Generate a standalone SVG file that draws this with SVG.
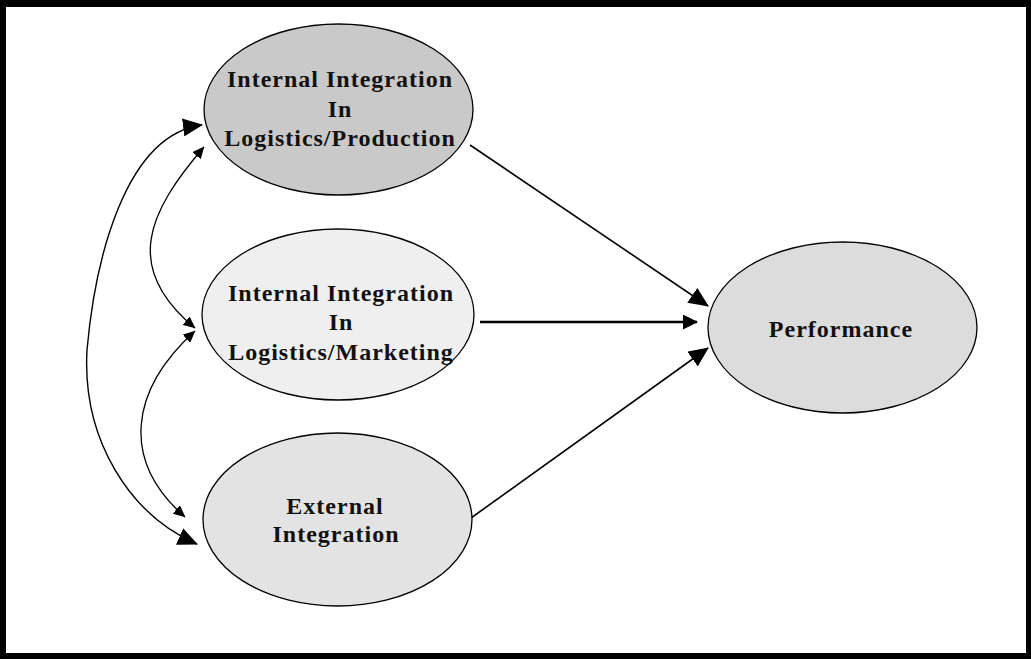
<svg xmlns="http://www.w3.org/2000/svg" width="1031" height="659" viewBox="0 0 1031 659">
  <style>
    .node ellipse { stroke: #000; stroke-width: 1.3; }
    .node text { font-family: "Liberation Serif", "Times New Roman", serif; font-weight: bold; font-size: 24px; fill: #111; text-anchor: middle; letter-spacing: 1px; }
    .conn { fill: none; stroke: #000; }
  </style>
  <defs>
    <marker id="big" markerUnits="userSpaceOnUse" markerWidth="20" markerHeight="18" viewBox="0 0 20 18" refX="19" refY="9" orient="auto-start-reverse">
      <path d="M0,0 L20,9 L0,18 Z" fill="#000"/>
    </marker>
    <marker id="mid" markerUnits="userSpaceOnUse" markerWidth="15" markerHeight="15" viewBox="0 0 15 15" refX="14" refY="7.5" orient="auto">
      <path d="M0,0 L15,7.5 L0,15 Z" fill="#000"/>
    </marker>
    <marker id="small" markerUnits="userSpaceOnUse" markerWidth="12" markerHeight="11" viewBox="0 0 12 11" refX="11.5" refY="5.5" orient="auto-start-reverse">
      <path d="M0,0 L12,5.5 L0,11 Z" fill="#000"/>
    </marker>
  </defs>

  <rect width="1031" height="659" fill="#fff"/>
  <path d="M0,0 H1031 V659 H0 Z M6,7 V653 H1026 V7 Z" fill="#000" fill-rule="evenodd"/>

  <g id="connectors">
    <path class="conn" d="M470,145 L708,306" stroke-width="1.6" marker-end="url(#big)"/>
    <path class="conn" d="M480,322 L697,322" stroke-width="2.4" marker-end="url(#mid)"/>
    <path class="conn" d="M471,518 L708,348" stroke-width="1.6" marker-end="url(#big)"/>
    <path class="conn" d="M202,125 C125,135 95,260 87,350 C82,440 130,515 197,544" stroke-width="1.4" marker-start="url(#big)" marker-end="url(#big)"/>
    <path class="conn" d="M204,147 C148,212 122,268 195,328" stroke-width="1.3" marker-start="url(#small)" marker-end="url(#small)"/>
    <path class="conn" d="M195,331 C130,390 120,460 185,517" stroke-width="1.3" marker-start="url(#small)" marker-end="url(#small)"/>
  </g>

  <g id="node-production" class="node">
    <ellipse cx="338.5" cy="109.5" rx="134.5" ry="85.5" fill="#c9c9c9"/>
    <text x="340" y="87">Internal Integration</text>
    <text x="340" y="117">In</text>
    <text x="340" y="146">Logistics/Production</text>
  </g>

  <g id="node-marketing" class="node">
    <ellipse cx="338" cy="314.5" rx="136" ry="85.5" fill="#efefef"/>
    <text x="341" y="301">Internal Integration</text>
    <text x="341" y="330">In</text>
    <text x="341" y="360">Logistics/Marketing</text>
  </g>

  <g id="node-external" class="node">
    <ellipse cx="337.5" cy="519.5" rx="134.5" ry="86.5" fill="#e3e3e3"/>
    <text x="335" y="514">External</text>
    <text x="336" y="542">Integration</text>
  </g>

  <g id="node-performance" class="node">
    <ellipse cx="842.5" cy="327.5" rx="134.5" ry="85.5" fill="#dcdcdc"/>
    <text x="841" y="337">Performance</text>
  </g>
</svg>
